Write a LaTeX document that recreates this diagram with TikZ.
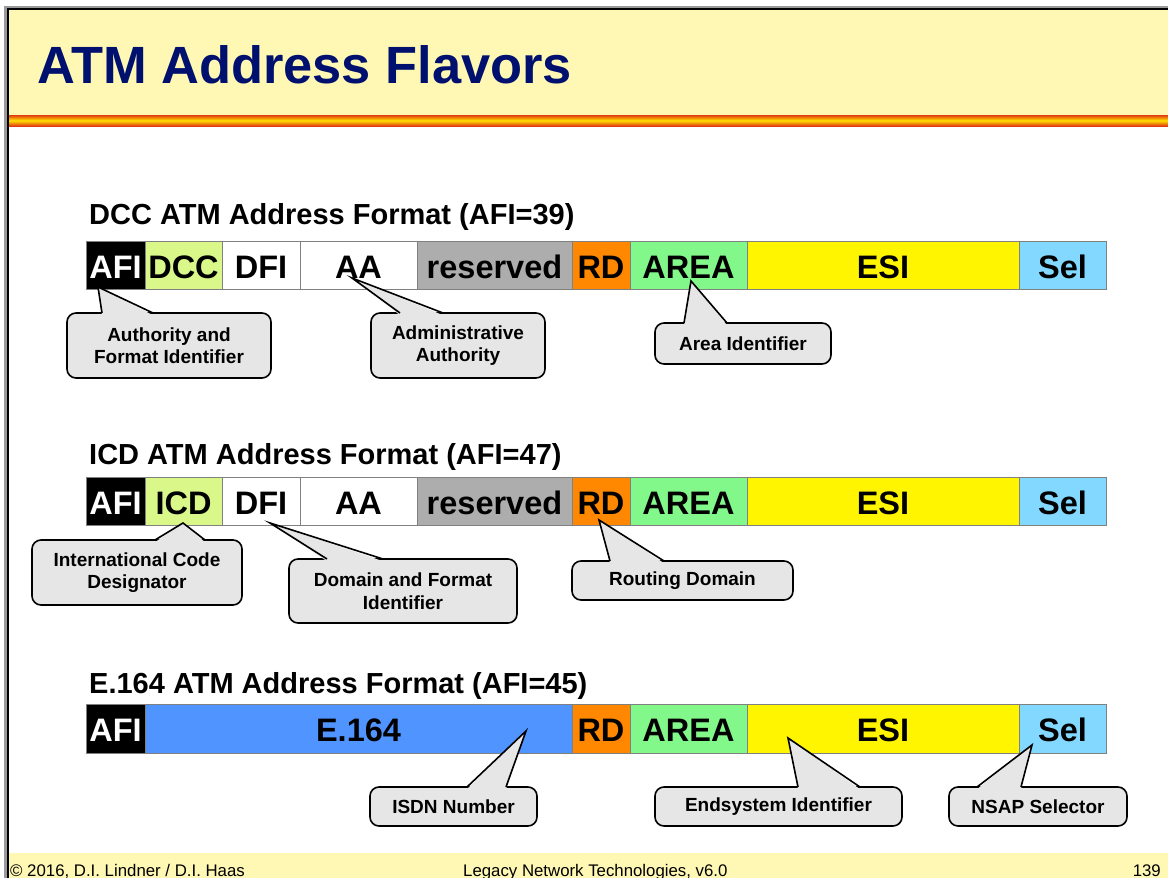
\documentclass[tikz,border=0pt]{standalone}
\usepackage{fontspec}
\setmainfont{Liberation Sans}
\usetikzlibrary{calc}
\definecolor{band}{HTML}{FFF8B4}
\definecolor{titleblue}{HTML}{00106E}
\definecolor{stripered}{HTML}{E03A10}
\definecolor{stripeyel}{HTML}{FFE000}
\definecolor{framegray}{HTML}{9A9A9A}
\definecolor{cellgray}{HTML}{808080}
\definecolor{afiblack}{HTML}{000000}
\definecolor{dccgreen}{HTML}{DAF78A}
\definecolor{resgray}{HTML}{ADADAD}
\definecolor{rdorange}{HTML}{FF8800}
\definecolor{areagreen}{HTML}{82F78A}
\definecolor{esiyellow}{HTML}{FFF500}
\definecolor{selblue}{HTML}{82D8FF}
\definecolor{eblue}{HTML}{5094FF}
\definecolor{callgray}{HTML}{E6E6E6}
\newcommand\mycallout[8]{%
  \node[callbox, minimum width=#3, minimum height=#4] (#1) at (#2) {#5};
  \coordinate (#1tip) at (#6);
  \fill[callgray] ($(#1.north west)+(#7,2.2)$) -- (#1tip) -- ($(#1.north west)+(#8,2.2)$) -- cycle;
  \draw[line width=1.6pt, line join=miter] ($(#1.north west)+(#7,0)$) -- (#1tip) -- ($(#1.north west)+(#8,0)$);
}
\begin{document}
\begin{tikzpicture}[x=1pt,y=-1pt,
  cellbox/.style={draw=cellgray, line width=1pt, inner sep=0pt, outer sep=0pt,
    font=\fontsize{32.5}{32.5}\selectfont\bfseries, text height=26pt, text depth=0pt, anchor=center},
  callbox/.style={draw=black, line width=1.6pt, fill=callgray, rounded corners=9pt,
    inner sep=0pt, outer sep=0pt, align=center, font=\fontsize{19}{22.5}\selectfont\bfseries},
  heading/.style={anchor=base west, inner sep=0pt, font=\fontsize{29}{29}\selectfont\bfseries},
  foot/.style={inner sep=0pt, font=\fontsize{16.8}{16.8}\selectfont}]
\useasboundingbox (0,0) rectangle (1168,878);
\fill[white] (0,0) rectangle (1168,878);
% bands
\fill[band] (9,10) rectangle (1168,115);
\shade[top color=stripered, bottom color=stripered, middle color=stripeyel] (9,115) rectangle (1168,126);
\fill[band] (9,853) rectangle (1168,878);
% frame
\draw[framegray, line width=2.5pt] (5.5,878) -- (5.5,7) -- (1168,7);
\draw[black, line width=1.5pt] (8.2,878) -- (8.2,9.2) -- (1168,9.2);
% title
\node[anchor=base west, inner sep=0pt, font=\fontsize{52.4}{52.4}\selectfont\bfseries, text=titleblue] (title) at (37,83.3) {ATM Address Flavors};

% ---------- Row 1 ----------
\node[heading] (h1) at (89,224.3) {DCC ATM Address Format (AFI=39)};
\begin{scope}[every node/.append style={minimum height=48pt}]
\node[cellbox, fill=afiblack, text=white, minimum width=59pt] (a1) at (115.5,265) {AFI};
\node[cellbox, fill=dccgreen, minimum width=77pt] (b1) at (183.5,265) {DCC};
\node[cellbox, fill=white, minimum width=78pt] (c1) at (261,265) {DFI};
\node[cellbox, fill=white, minimum width=117pt] (d1) at (358.5,265) {AA};
\node[cellbox, fill=resgray, minimum width=155pt] (e1) at (494.5,265) {reserved};
\node[cellbox, fill=rdorange, minimum width=58pt] (f1) at (601,265) {RD};
\node[cellbox, fill=areagreen, minimum width=117pt] (g1) at (688.5,265) {AREA};
\node[cellbox, fill=esiyellow, minimum width=272pt] (i1) at (883,265) {ESI};
\node[cellbox, fill=selblue, minimum width=87pt] (j1) at (1062.5,265) {Sel};
\end{scope}

% ---------- Row 2 ----------
\node[heading] (h2) at (89,464) {ICD ATM Address Format (AFI=47)};
\begin{scope}[every node/.append style={minimum height=48pt}]
\node[cellbox, fill=afiblack, text=white, minimum width=59pt] (a2) at (115.5,501) {AFI};
\node[cellbox, fill=dccgreen, minimum width=77pt] (b2) at (183.5,501) {ICD};
\node[cellbox, fill=white, minimum width=78pt] (c2) at (261,501) {DFI};
\node[cellbox, fill=white, minimum width=117pt] (d2) at (358.5,501) {AA};
\node[cellbox, fill=resgray, minimum width=155pt] (e2) at (494.5,501) {reserved};
\node[cellbox, fill=rdorange, minimum width=58pt] (f2) at (601,501) {RD};
\node[cellbox, fill=areagreen, minimum width=117pt] (g2) at (688.5,501) {AREA};
\node[cellbox, fill=esiyellow, minimum width=272pt] (i2) at (883,501) {ESI};
\node[cellbox, fill=selblue, minimum width=87pt] (j2) at (1062.5,501) {Sel};
\end{scope}

% ---------- Row 3 ----------
\node[heading] (h3) at (89,693) {E.164 ATM Address Format (AFI=45)};
\begin{scope}[every node/.append style={minimum height=49pt}]
\node[cellbox, fill=afiblack, text=white, minimum width=59pt] (a3) at (115.5,728.5) {AFI};
\node[cellbox, fill=eblue, minimum width=427pt] (b3) at (358.5,728.5) {E.164};
\node[cellbox, fill=rdorange, minimum width=58pt] (f3) at (601,728.5) {RD};
\node[cellbox, fill=areagreen, minimum width=117pt] (g3) at (688.5,728.5) {AREA};
\node[cellbox, fill=esiyellow, minimum width=272pt] (i3) at (883,728.5) {ESI};
\node[cellbox, fill=selblue, minimum width=87pt] (j3) at (1062.5,728.5) {Sel};
\end{scope}

% ---------- Callouts ----------
\mycallout{cafi}{169,345.5}{204pt}{65pt}{Authority and\\Format Identifier}{98,287}{35}{86}
\mycallout{caa}{458,345.5}{174pt}{65pt}{Administrative\\Authority}{352,278}{29}{72}
\mycallout{carea}{743,343.5}{176pt}{41pt}{Area Identifier}{691,281}{29}{72}
\mycallout{cicd}{137,572.5}{210pt}{65pt}{International Code\\Designator}{183,523}{123}{173}
\mycallout{cdfi}{403,591}{228pt}{64pt}{Domain and Format\\Identifier}{270,523}{38}{94}
\mycallout{crd}{682.5,580.5}{221pt}{39pt}{Routing Domain}{599,520}{38}{92}
\mycallout{cisdn}{453.5,806.5}{167pt}{39pt}{ISDN Number}{526,731}{97}{136}
\mycallout{cesi}{778.5,806.5}{247pt}{39pt}{Endsystem Identifier}{788,738}{143}{205}
\mycallout{csel}{1038,806.5}{178pt}{39pt}{NSAP Selector}{1032,745}{28}{72}

% ---------- Footer ----------
\node[foot, anchor=base west] (f1t) at (10,876.5) {© 2016, D.I. Lindner / D.I. Haas};
\node[foot, anchor=base west] (f2t) at (463,876.5) {Legacy Network Technologies, v6.0};
\node[foot, anchor=base east] (f3t) at (1161,876.5) {139};
\end{tikzpicture}
\end{document}
